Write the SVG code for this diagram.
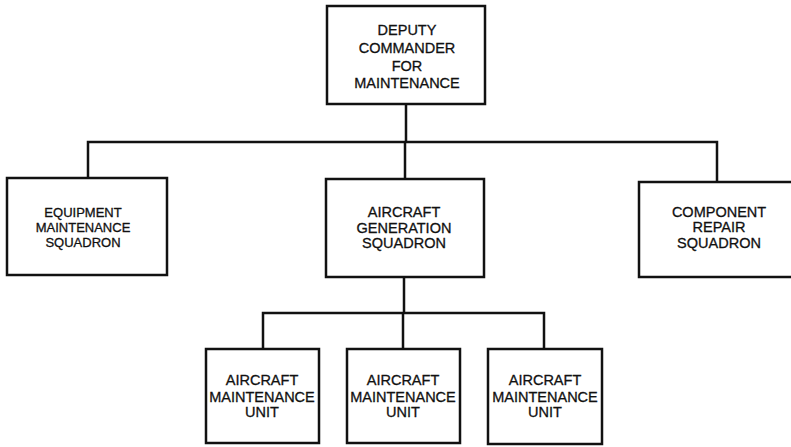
<svg xmlns="http://www.w3.org/2000/svg" width="791" height="447" viewBox="0 0 791 447">
<style>
.box{fill:#fff;stroke:#111;stroke-width:2.5}
.ln{fill:none;stroke:#111;stroke-width:2.5}
text{font-family:"Liberation Sans",Arial,sans-serif;font-size:14.5px;fill:#111;text-anchor:middle;stroke:#111;stroke-width:0.3}
</style>
<rect width="791" height="447" fill="#fff"/>
<g id="connectors">
<path class="ln" d="M406,104 V142 M88,178 V142 H717 V182 M405,142 V179"/>
<path class="ln" d="M404,277 V313 M263,349 V313 H544 V349 M403,313 V349"/>
</g>
<g id="dcm">
<rect class="box" x="327" y="6" width="158" height="98"/>
<text x="407" y="35">DEPUTY</text>
<text x="407" y="52.5">COMMANDER</text>
<text x="407" y="71">FOR</text>
<text x="407" y="87.5">MAINTENANCE</text>
</g>
<g id="ems">
<rect class="box" x="7" y="178" width="160" height="97"/>
<text x="83" y="217" style="font-size:13px">EQUIPMENT</text>
<text x="83" y="232" style="font-size:13px">MAINTENANCE</text>
<text x="83" y="247" style="font-size:13px">SQUADRON</text>
</g>
<g id="ags">
<rect class="box" x="326" y="179" width="158" height="98"/>
<text x="404" y="217">AIRCRAFT</text>
<text x="404" y="233">GENERATION</text>
<text x="404" y="248">SQUADRON</text>
</g>
<g id="crs">
<rect class="box" x="639" y="182" width="170" height="95"/>
<text x="719" y="217">COMPONENT</text>
<text x="719" y="232">REPAIR</text>
<text x="719" y="248">SQUADRON</text>
</g>
<g id="amu1">
<rect class="box" x="206" y="349" width="113" height="94"/>
<text x="262" y="385">AIRCRAFT</text>
<text x="262" y="402">MAINTENANCE</text>
<text x="262" y="417">UNIT</text>
</g>
<g id="amu2">
<rect class="box" x="347" y="349" width="113" height="94"/>
<text x="403" y="385">AIRCRAFT</text>
<text x="403" y="402">MAINTENANCE</text>
<text x="403" y="417">UNIT</text>
</g>
<g id="amu3">
<rect class="box" x="488" y="349" width="114" height="95"/>
<text x="545" y="385">AIRCRAFT</text>
<text x="545" y="402">MAINTENANCE</text>
<text x="545" y="417">UNIT</text>
</g>
</svg>
